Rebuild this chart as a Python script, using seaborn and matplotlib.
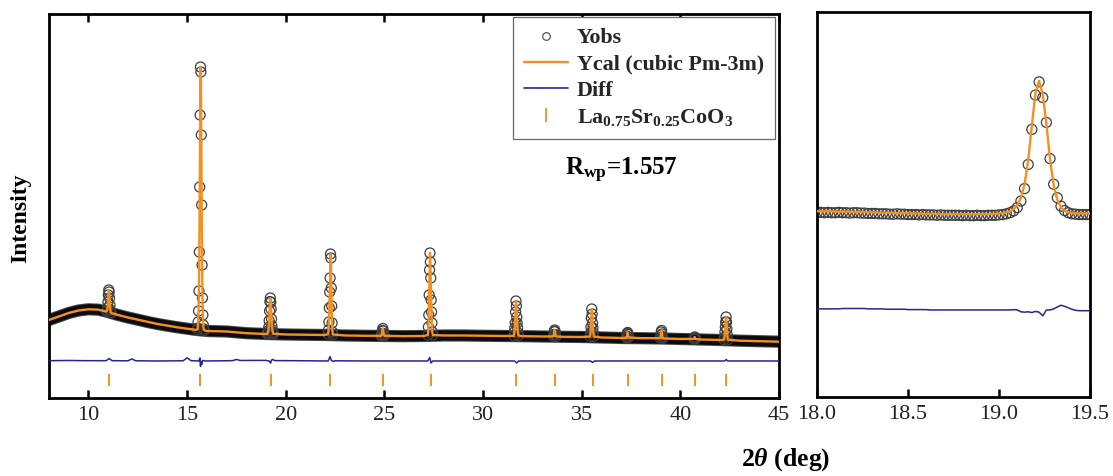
import numpy as np
import matplotlib
matplotlib.use("Agg")
import matplotlib.pyplot as plt
from matplotlib.lines import Line2D
import seaborn as sns

# ---------------- data (intensity in arbitrary units) ----------------
# smooth background of the observed / calculated pattern
bg_x = [8.0, 8.5, 9.0, 9.5, 10.0, 10.5, 10.9, 11.2, 11.5, 12.0,
        12.5, 13.0, 13.5, 14.0, 14.5, 15.0, 15.4, 16.0, 17.0, 18.0,
        19.0, 20.0, 21.0, 22.0, 23.0, 24.0, 25.0, 26.0, 27.0, 28.0,
        29.0, 30.0, 31.0, 32.0, 33.0, 34.0, 35.0, 36.0, 37.0, 38.0,
        39.0, 40.0, 41.0, 42.0, 43.0, 44.0, 45.0]
bg_y = [78, 81.5, 85, 87.5, 88.7, 88.3, 86.5, 84.7, 83, 80.5,
        78.3, 76, 74, 72.3, 70.7, 69.3, 68.2, 67, 66.5, 64.8,
        64.0, 63.5, 63.2, 63, 62.5, 62.2, 62, 61.8, 62, 62.5,
        62.5, 62.2, 62, 61.8, 61.5, 61.2, 61, 60.5, 60, 59.8,
        59.5, 59, 58.5, 58, 57.3, 56.8, 56.3]

# observed points across each reflection
peak_x = [10.93, 10.95, 10.97, 10.99, 11.01, 11.03, 11.05, 11.07, 11.09, 11.11, 11.13, 11.15,
          15.52, 15.54, 15.56, 15.58, 15.60, 15.62, 15.64, 15.66, 15.68, 15.70, 15.72, 15.74,
          15.76, 15.78, 15.80, 15.82, 15.84, 15.88,
          19.06, 19.08, 19.10, 19.12, 19.14, 19.16, 19.18, 19.20, 19.22, 19.24, 19.26, 19.28,
          19.30, 19.32, 19.34, 19.36, 19.38,
          22.15, 22.17, 22.19, 22.21, 22.23, 22.25, 22.27, 22.29, 22.31, 22.33, 22.35, 22.37, 22.39,
          24.84, 24.86, 24.88, 24.90, 24.92, 24.94, 24.96, 24.98, 25.00,
          27.21, 27.23, 27.25, 27.27, 27.29, 27.31, 27.33, 27.35, 27.37, 27.39, 27.41, 27.43, 27.45,
          31.57, 31.59, 31.61, 31.63, 31.65, 31.67, 31.69, 31.71, 31.73, 31.75, 31.77, 31.79,
          33.57, 33.59, 33.61, 33.63, 33.65, 33.67, 33.69,
          35.43, 35.45, 35.47, 35.49, 35.51, 35.53, 35.55, 35.57, 35.59, 35.61,
          37.27, 37.29, 37.31, 37.33, 37.35, 37.37,
          38.99, 39.01, 39.03, 39.05, 39.07, 39.09, 39.11,
          40.69, 40.71, 40.73, 40.75, 40.77,
          42.22, 42.24, 42.26, 42.28, 42.30, 42.32, 42.34, 42.36, 42.38, 42.40]
peak_y = [86.7, 87.5, 90, 96, 103, 108, 106, 100, 93, 88, 85.5, 85.0,
          68.4, 70, 76, 87, 107, 146, 211, 283, 331, 326, 263, 193,
          133, 100, 83, 73, 69, 67.5,
          64.2, 64.7, 65.6, 67.4, 70.8, 77.4, 87.0, 96.4, 100.0, 95.7, 88.9, 79.0,
          72.0, 68.3, 66.0, 64.8, 64.2,
          64, 68, 76, 90, 106, 120, 144, 140, 110, 92, 75, 66, 63.5,
          62.2, 63, 64.5, 67.5, 69.5, 67, 64.5, 63, 62.2,
          63, 71, 83, 103, 128, 145, 136, 120, 98, 86, 75, 66, 63,
          62.2, 66, 70, 75, 86, 97, 92, 81, 75, 70, 65, 62.5,
          61.6, 63.5, 66.5, 68, 66.5, 63.5, 61.6,
          61.5, 65, 71, 80, 89, 84, 75, 70, 65, 61.5,
          60.2, 62, 64.5, 65.5, 63.5, 60.5,
          59.8, 62.5, 66, 67.5, 64, 61, 59.6,
          59.1, 60, 61, 60, 59,
          58.3, 61, 66, 71, 76, 81, 76, 69, 63, 58.3]

# difference curve (offset)
diff_x = [8.0, 9.0, 10.0, 10.9, 11.05, 11.2, 12.0, 12.2, 12.4, 13.5, 14.8, 15.0, 15.2,
          15.6, 15.65, 15.68, 15.71, 15.74, 15.78, 15.9, 17.3, 17.5, 17.7, 18.5, 19.0,
          19.15, 19.24, 19.27, 19.32, 19.45, 21.0, 22.15, 22.25, 22.3, 22.4, 22.5, 24.0,
          27.2, 27.3, 27.36, 27.45, 29.0, 31.6, 31.7, 31.8, 35.45, 35.55, 35.65, 38.0,
          42.25, 42.32, 42.4, 45.0]
diff_y = [37.3, 37.5, 37.3, 37.3, 39.5, 37.3, 37.2, 39.0, 37.2, 37.0, 37.2, 40.2, 37.3,
          37.0, 40.0, 31.5, 36.5, 33.5, 37.5, 37.0, 37.3, 38.5, 37.5, 37.6, 37.6,
          37.0, 35.0, 37.5, 38.6, 37.4, 37.2, 37.0, 41.5, 38.0, 36.5, 37.2, 37.0,
          37.0, 40.5, 35.0, 37.0, 37.0, 37.0, 35.0, 37.0, 37.0, 35.5, 37.0, 37.0,
          37.0, 38.5, 37.0, 37.0]

# Bragg reflection positions of La0.75Sr0.25CoO3
bragg_x = [11.05, 15.68, 19.25, 22.26, 24.92, 27.35, 31.69, 33.65, 35.55,
           37.34, 39.07, 40.73, 42.33]
bragg_level = 18

# zoomed region 18.0-19.5 deg (step 0.02 deg)
zoom_x = np.linspace(18.0, 19.5, 76)
zoom_obs = [64.2, 64.3, 64.2, 64.3, 64.2, 64.2, 64.3, 64.2, 64.2, 64.1,
            64.2, 64.2, 64.1, 64.1, 64.0, 64.0, 64.0, 63.9, 63.9, 63.9,
            63.8, 63.8, 63.9, 63.8, 63.8, 63.7, 63.7, 63.7, 63.6, 63.7,
            63.6, 63.6, 63.6, 63.5, 63.6, 63.5, 63.5, 63.5, 63.5, 63.5,
            63.4, 63.5, 63.4, 63.4, 63.5, 63.4, 63.4, 63.5, 63.5, 63.5,
            63.6, 63.7, 63.9, 64.2, 64.7, 65.6, 67.4, 70.8, 77.4, 87.0,
            96.4, 100.0, 95.7, 88.9, 79.0, 72.0, 68.3, 66.0, 64.8, 64.2,
            63.9, 63.8, 63.7, 63.7, 63.7, 63.7]
zoom_cal = [64.6, 64.6, 64.6, 64.6, 64.6, 64.5, 64.5, 64.5, 64.5, 64.5,
            64.4, 64.4, 64.4, 64.4, 64.3, 64.3, 64.3, 64.2, 64.2, 64.2,
            64.2, 64.1, 64.1, 64.1, 64.1, 64.0, 64.0, 64.0, 64.0, 63.9,
            63.9, 63.9, 63.9, 63.9, 63.8, 63.8, 63.8, 63.8, 63.8, 63.8,
            63.8, 63.8, 63.8, 63.8, 63.8, 63.8, 63.8, 63.8, 63.9, 63.9,
            64.0, 64.1, 64.3, 64.6, 65.2, 66.3, 68.3, 72.0, 78.5, 88.0,
            97.0, 100.3, 96.5, 88.5, 78.8, 71.8, 67.8, 65.7, 64.7, 64.3,
            64.1, 64.0, 64.0, 64.0, 64.0, 64.0]
zoom_diff = [37.9, 37.9, 37.9, 37.9, 37.9, 37.9, 37.9, 38.0, 38.0, 38.0,
             38.0, 38.0, 38.0, 38.0, 37.9, 37.9, 37.9, 37.9, 37.9, 37.8,
             37.8, 37.8, 37.8, 37.8, 37.8, 37.7, 37.7, 37.7, 37.7, 37.7,
             37.7, 37.6, 37.6, 37.6, 37.6, 37.6, 37.6, 37.6, 37.6, 37.6,
             37.6, 37.6, 37.6, 37.6, 37.6, 37.6, 37.6, 37.6, 37.6, 37.6,
             37.6, 37.6, 37.6, 37.6, 37.7, 37.6, 37.1, 37.0, 37.1, 36.9,
             37.2, 37.0, 36.0, 37.6, 37.6, 37.9, 38.4, 38.9, 38.6, 38.2,
             37.8, 37.5, 37.4, 37.4, 37.4, 37.4]

labels = ["Yobs", "Ycal (cubic Pm-3m)", "Diff", r"La$_{0.75}$Sr$_{0.25}$CoO$_3$"]
rwp_text = r"R$_{wp}$=1.557"

# ---------------- build calculated curve (background + reflections) ----------------
bgx = np.array(bg_x); bgy = np.array(bg_y, float)
pkx = np.array(peak_x); pky = np.array(peak_y, float)
groups = np.split(np.arange(len(pkx)), np.where(np.diff(pkx) > 0.3)[0] + 1)
keep = np.ones(len(bgx), bool)
for g in groups:
    keep &= ~((bgx >= pkx[g].min()) & (bgx <= pkx[g].max()))
cal_x = np.concatenate([bgx[keep], pkx])
cal_y = np.concatenate([bgy[keep], pky])
order = np.argsort(cal_x)
cal_x, cal_y = cal_x[order], cal_y[order]

# ---------------- style ----------------
sns.set_theme(style="white")
plt.rcParams["font.family"] = ["Liberation Serif", "DejaVu Serif"]
plt.rcParams["mathtext.fontset"] = "custom"
plt.rcParams["mathtext.rm"] = "Liberation Serif:bold"
plt.rcParams["mathtext.bf"] = "Liberation Serif:bold"
plt.rcParams["mathtext.it"] = "Liberation Serif:italic:bold"
plt.rcParams["mathtext.default"] = "rm"

ORANGE = "#F5901E"
NAVY = "#25258F"
CIRC = "#3e3e3e"

fig = plt.figure(figsize=(11.13, 4.76), dpi=100)
ax1 = fig.add_axes([0.0440, 0.1639, 0.6559, 0.8067])
ax2 = fig.add_axes([0.7341, 0.1660, 0.2453, 0.8088])

# ---- left panel ----
sns.lineplot(x=bg_x, y=bg_y, ax=ax1, color="#4a4a4a", linewidth=8.8,
             estimator=None, zorder=1, solid_capstyle="round")
sns.lineplot(x=bg_x, y=bg_y, ax=ax1, color="#0c0c0c", linewidth=7.4,
             estimator=None, zorder=1.1, solid_capstyle="round")
sns.scatterplot(x=peak_x, y=peak_y, ax=ax1, marker="o", s=52, color=CIRC,
                facecolor="none", edgecolor=CIRC, linewidth=0.9, zorder=2)
sns.lineplot(x=cal_x, y=cal_y, ax=ax1, color=ORANGE, linewidth=1.7,
             estimator=None, sort=False, zorder=3)
sns.lineplot(x=diff_x, y=diff_y, ax=ax1, color=NAVY, linewidth=1.1,
             estimator=None, zorder=3)
sns.scatterplot(x=bragg_x, y=[bragg_level] * len(bragg_x), ax=ax1, marker="|",
                s=70, color=ORANGE, linewidth=1.4, zorder=3)
ax1.set_xlim(8, 45)
ax1.set_ylim(0, 384)
ax1.set_xticks([10, 15, 20, 25, 30, 35, 40, 45])

# ---- right panel ----
sns.scatterplot(x=zoom_x, y=zoom_obs, ax=ax2, marker="o", s=52, color=CIRC,
                facecolor="none", edgecolor=CIRC, linewidth=0.9, zorder=2)
sns.lineplot(x=zoom_x, y=zoom_cal, ax=ax2, color=ORANGE, linewidth=1.7,
             estimator=None, zorder=3)
sns.lineplot(x=zoom_x, y=zoom_diff, ax=ax2, color=NAVY, linewidth=1.1,
             estimator=None, zorder=3)
ax2.set_xlim(18.0, 19.5)
ax2.set_ylim(13.8, 119.1)
ax2.set_xticks([18.0, 18.5, 19.0, 19.5])
ax2.set_xticklabels(["18.0", "18.5", "19.0", "19.5"])

for ax in (ax1, ax2):
    ax.set_yticks([])
    ax.set_xlabel("")
    ax.set_ylabel("")
    for sp in ax.spines.values():
        sp.set_visible(True)
        sp.set_color("black")
        sp.set_linewidth(2.0)
    ax.tick_params(axis="x", which="major", direction="in", bottom=True,
                   length=6, width=1.8, color="black", labelsize=16, pad=6,
                   labelcolor="#222222")
ax1.tick_params(axis="x", top=True)
ax2.tick_params(axis="x", top=False)

# legend
handles = [
    Line2D([], [], ls="none", marker="o", ms=5.5, mfc="none", mec="#555555", mew=0.9),
    Line2D([], [], color=ORANGE, lw=1.7),
    Line2D([], [], color=NAVY, lw=1.2),
    Line2D([], [], ls="none", marker="|", ms=10, mec=ORANGE, mew=1.3),
]
leg = ax1.legend(handles=handles, labels=labels, loc="upper right",
                 bbox_to_anchor=(0.9945, 0.992), borderaxespad=0,
                 prop={"family": "Liberation Serif", "weight": "bold", "size": 15.8},
                 frameon=True, fancybox=False, framealpha=1, edgecolor="#666666",
                 handlelength=2.0, handletextpad=0.4, labelspacing=0.27,
                 borderpad=0.5)
leg.get_frame().set_linewidth(0.9)

ax1.text(0.707, 0.592, rwp_text, transform=ax1.transAxes, fontsize=18,
         fontweight="bold", ha="left", va="center", color="black")

ax1.set_ylabel("Intensity", fontsize=17, fontweight="bold", color="black")
ax1.yaxis.set_label_coords(-0.0237, 0.469)

fig.text(0.706, 0.006, r"2$\mathit{\theta}$ (deg)", fontsize=18.5, fontweight="bold",
         ha="center", va="bottom", color="black")

fig.savefig("out.png", dpi=100, facecolor="white")
